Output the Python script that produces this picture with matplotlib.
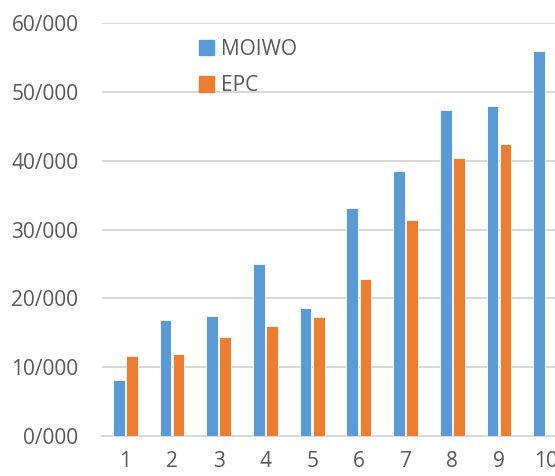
import numpy as np
import matplotlib.pyplot as plt
from matplotlib.patches import Patch

categories = ['1', '2', '3', '4', '5', '6', '7', '8', '9', '10']
moiwo = [8.1, 16.8, 17.5, 25.0, 18.6, 33.1, 38.5, 47.4, 47.9, 55.9]
epc = [11.6, 11.9, 14.4, 16.0, 17.3, 22.8, 31.4, 40.4, 42.4, np.nan]
yticks = [0, 10, 20, 30, 40, 50, 60]
ytick_labels = ['0/000', '10/000', '20/000', '30/000', '40/000', '50/000', '60/000']

blue = '#5B9BD5'
orange = '#ED7D31'
text_color = '#595959'
grid_color = '#D9D9D9'

plt.rcParams['font.family'] = ['Open Sans', 'DejaVu Sans']

fig = plt.figure(figsize=(5.55, 4.76), dpi=100)
ax = fig.add_axes([102 / 555, 40 / 476, 467 / 555, 413 / 476])

x = np.arange(1, len(categories) + 1)
w = 0.25
ax.bar(x - 0.14, moiwo, w, color=blue, edgecolor='white', linewidth=0.6, zorder=3)
ax.bar(x + 0.14, epc, w, color=orange, edgecolor='white', linewidth=0.6, zorder=3)

ax.set_xlim(0.5, 10.5)
ax.set_ylim(0, 60)
ax.set_xticks(x)
ax.set_xticklabels(categories)
ax.set_yticks(yticks)
ax.set_yticklabels(ytick_labels)

ax.grid(axis='y', color=grid_color, linewidth=1.5, zorder=0)
for s in ['top', 'right', 'left']:
    ax.spines[s].set_visible(False)
ax.spines['bottom'].set_color(grid_color)
ax.spines['bottom'].set_linewidth(1.5)
ax.tick_params(axis='both', length=0, labelsize=15, colors=text_color)
ax.tick_params(axis='x', pad=11)
ax.tick_params(axis='y', pad=17)

handles = [Patch(color=blue, label='MOIWO'), Patch(color=orange, label='EPC')]
fig.legend(handles=handles, loc='upper left', bbox_to_anchor=(180 / 555, 1 - 20 / 476),
           frameon=False, fontsize=15, labelcolor=text_color, handlelength=0.75,
           handleheight=0.75, handletextpad=0.3, labelspacing=0.75)

fig.savefig('out.png', dpi=100)
